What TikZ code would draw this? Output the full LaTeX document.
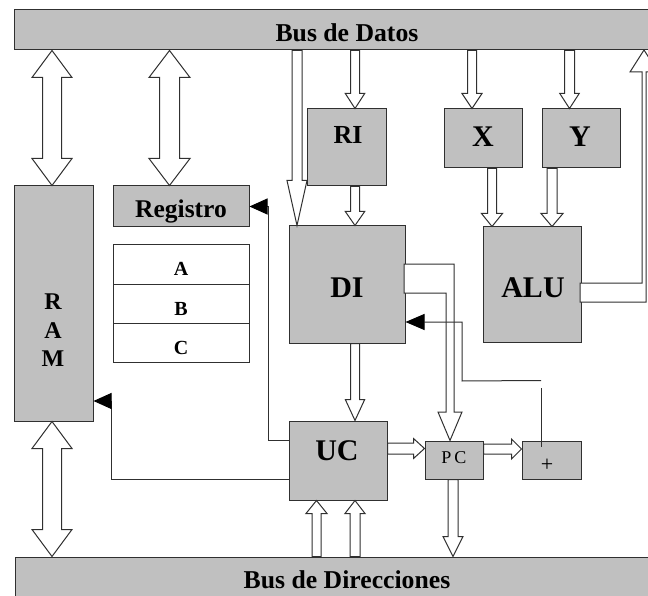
\documentclass[tikz,border=0pt]{standalone}
\usepackage{fontspec}
\setmainfont{Liberation Serif}
\usetikzlibrary{calc,arrows.meta}
\definecolor{boxgray}{HTML}{C0C0C0}
\definecolor{lc}{HTML}{303030}
\newcommand\fsz[1]{\fontsize{#1}{#1}\selectfont}
% single fat arrow: start, tip, shaft half width, head half width, head length
\newcommand\fatone[5]{%
  \path #1 coordinate (fa) #2 coordinate (fb);
  \coordinate (fh) at ($(fb)!#5!(fa)$);
  \draw[fatarr] ($(fa)!#3!90:(fb)$) -- ($(fh)!#3!90:(fb)$) -- ($(fh)!#4!90:(fb)$) -- (fb)
    -- ($(fh)!#4!-90:(fb)$) -- ($(fh)!#3!-90:(fb)$) -- ($(fa)!#3!-90:(fb)$) -- cycle;}
% double fat arrow
\newcommand\fattwo[5]{%
  \path #1 coordinate (fa) #2 coordinate (fb);
  \coordinate (ha) at ($(fa)!#5!(fb)$);
  \coordinate (hb) at ($(fb)!#5!(fa)$);
  \draw[fatarr] (fa) -- ($(ha)!#4!90:(fb)$) -- ($(ha)!#3!90:(fb)$) -- ($(hb)!#3!90:(fb)$)
    -- ($(hb)!#4!90:(fb)$) -- (fb) -- ($(hb)!#4!-90:(fb)$) -- ($(hb)!#3!-90:(fb)$)
    -- ($(ha)!#3!-90:(fb)$) -- ($(ha)!#4!-90:(fb)$) -- cycle;}
\begin{document}
\begin{tikzpicture}[x=1pt,y=-1pt,
  box/.style={draw=lc, fill=boxgray, line width=1pt, inner sep=0pt},
  wbox/.style={draw=lc, fill=white, line width=1pt, inner sep=0pt},
  lbl/.style={inner sep=0pt, anchor=base},
  fatarr/.style={draw=lc, fill=white, line width=1pt, line join=miter},
  thinln/.style={draw=lc, line width=1pt},
  thinarr/.style={thinln, -{Triangle[length=18pt,width=16pt,fill=black,color=black]}},
]
\useasboundingbox (0,0) rectangle (648,596);
\clip (0,0) rectangle (648,596);
\fill[white] (0,0) rectangle (648,596);

% boxes
\node[box, minimum width=646pt, minimum height=40pt] (busd) at (337,30) {};
\node[box, minimum width=645pt, minimum height=66pt] (busa) at (337.5,590) {};
\node[box, minimum width=79pt, minimum height=235pt] (ram) at (53.5,303.5) {};
\node[box, minimum width=136pt, minimum height=41pt] (reg) at (181,206.5) {};
\node[wbox, minimum width=136pt, minimum height=39pt] (ra) at (181,264.5) {};
\node[wbox, minimum width=136pt, minimum height=39pt] (rb) at (181,303.5) {};
\node[wbox, minimum width=136pt, minimum height=39pt] (rc) at (181,342.5) {};
\node[box, minimum width=79pt, minimum height=77pt] (ri) at (346.5,147.5) {};
\node[box, minimum width=78pt, minimum height=59pt] (xr) at (483,138.5) {};
\node[box, minimum width=78pt, minimum height=59pt] (yr) at (581,138.5) {};
\node[box, minimum width=116pt, minimum height=117pt] (di) at (347,284.5) {};
\node[box, minimum width=98pt, minimum height=115pt] (alu) at (532,284.5) {};
\node[box, minimum width=98pt, minimum height=79pt] (uc) at (338,460.5) {};
\node[box, minimum width=58pt, minimum height=38pt] (pc) at (454,460) {};
\node[box, minimum width=59pt, minimum height=38pt] (plus) at (551.5,460) {};

% double fat arrows
\fattwo{([xshift=-1.5pt]ram.north |- busd.south)}{([xshift=-1.5pt]ram.north)}{9.5pt}{20pt}{27pt}
\fattwo{([xshift=-11.5pt]reg.north |- busd.south)}{([xshift=-11.5pt]reg.north)}{10pt}{20.5pt}{27pt}
\fattwo{([xshift=-1.5pt]ram.south)}{([xshift=-1.5pt]ram.south |- busa.north)}{9.5pt}{20pt}{27pt}

% single fat arrows
\fatone{([xshift=8.5pt]ri.north |- busd.south)}{([xshift=8.5pt]ri.north)}{4.5pt}{9.7pt}{15pt}
\fatone{([xshift=-50pt]di.north |- busd.south)}{([xshift=-50pt]di.north)}{5pt}{10pt}{45pt}
\fatone{([xshift=8.5pt]ri.south)}{([xshift=8.5pt]ri.south |- di.north)}{4.5pt}{9.7pt}{14pt}
\fatone{([xshift=-11pt]xr.north |- busd.south)}{([xshift=-11pt]xr.north)}{4.5pt}{10pt}{15pt}
\fatone{([xshift=-11.5pt]yr.north |- busd.south)}{([xshift=-11.5pt]yr.north)}{5pt}{9.7pt}{15pt}
\fatone{([xshift=9pt]xr.south)}{([xshift=9pt]xr.south |- alu.north)}{4.5pt}{10.5pt}{13pt}
\fatone{([xshift=-29pt]yr.south)}{([xshift=-29pt]yr.south |- alu.north)}{5pt}{11pt}{13pt}
\fatone{([xshift=8pt]di.south)}{([xshift=8pt]di.south |- uc.north)}{4.5pt}{9.7pt}{21pt}
\fatone{([yshift=12pt]uc.east)}{([yshift=12pt]uc.east -| pc.west)}{5.5pt}{10pt}{11pt}
\fatone{([yshift=11pt]pc.east)}{([yshift=11pt]pc.east -| plus.west)}{5pt}{10pt}{10pt}
\fatone{([xshift=-1pt]pc.south)}{([xshift=-1pt]pc.south |- busa.north)}{5pt}{10pt}{20pt}
\fatone{([xshift=-21.5pt]uc.south |- busa.north)}{([xshift=-21.5pt]uc.south)}{4.5pt}{10.5pt}{13pt}
\fatone{([xshift=17pt]uc.south |- busa.north)}{([xshift=17pt]uc.south)}{5pt}{10pt}{13pt}

% bent fat arrows
\draw[fatarr] ([xshift=-1.5pt,yshift=20.5pt]di.east) -- (454,264) -- (454,412) -- (462,412)
  -- ([xshift=-4pt]pc.north) -- (438,412) -- (446,412) -- (446,293)
  -- ([xshift=-1.5pt,yshift=-8.5pt]di.east) -- cycle;
\draw[fatarr] ([xshift=-1.5pt,yshift=1.5pt]alu.east) -- (642,283) -- (642,72) -- (630,72)
  -- (644,50) -- (658,72) -- (646,72) -- (646,302)
  -- ([xshift=-1.5pt,yshift=-17.5pt]alu.east) -- cycle;

% thin connectors
\draw[thinarr] ([yshift=20.5pt]uc.west) -| ([xshift=19pt]reg.east) -- (reg.east);
\draw[thinarr] ([yshift=-18.5pt]uc.west) -| ([xshift=18pt,yshift=-97.5pt]ram.east) -- ([yshift=-97.5pt]ram.east);
\draw[thinln] ([xshift=-10.5pt,yshift=-6pt]plus.north) -- ++(0,-59);
\coordinate (gapend) at ([xshift=-10.5pt,yshift=60pt]plus.north);
\draw[thinln, -{Triangle[length=19pt,width=16pt,fill=black,color=black]}] (gapend) -- (462,381) -- (462,322) -- ([yshift=-37.5pt]di.east);

% labels
\node[lbl, font=\fsz{25.7}\bfseries] (tbusd) at (347,42) {Bus de Datos};
\node[lbl, font=\fsz{25.7}\bfseries] (tbusa) at (347,588) {Bus de Direcciones};
\node[lbl, font=\fsz{25.5}\bfseries] (treg) at (181,218) {Registro};
\node[lbl, font=\fsz{24}\bfseries] (tr) at (53,309) {R};
\node[lbl, font=\fsz{24}\bfseries] (ta) at (53,338) {A};
\node[lbl, font=\fsz{24}\bfseries] (tm) at (53,366) {M};
\node[lbl, font=\fsz{20}\bfseries] (tA) at (181,276) {A};
\node[lbl, font=\fsz{20}\bfseries] (tB) at (181,315) {B};
\node[lbl, font=\fsz{20}\bfseries] (tC) at (181,354) {C};
\node[lbl, font=\fsz{26}\bfseries] (tri) at (348,143.5) {RI};
\node[lbl, font=\fsz{30}\bfseries] (tx) at (483,147) {X};
\node[lbl, font=\fsz{30}\bfseries] (ty) at (580,147) {Y};
\node[lbl, font=\fsz{30}\bfseries] (tdi) at (347,297) {DI};
\node[lbl, font=\fsz{30}\bfseries] (talu) at (533,297) {ALU};
\node[lbl, font=\fsz{30}\bfseries] (tuc) at (337,460) {UC};
\node[lbl, font=\fsz{18}] (tpc) at (454,463) {P\,C};
\node[inner sep=0pt, font=\fsz{22}] (tplus) at (547,465) {+};
\end{tikzpicture}
\end{document}
